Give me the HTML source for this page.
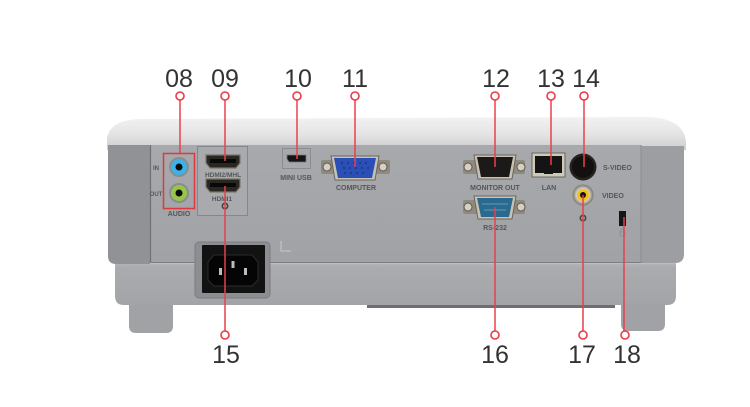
<!DOCTYPE html>
<html><head><meta charset="utf-8"><style>
html,body{margin:0;padding:0;background:#fff;width:750px;height:407px;overflow:hidden}
svg{display:block}
.n{font-family:"Liberation Sans",sans-serif;font-size:25px;fill:#333;text-anchor:middle}
.s{font-family:"Liberation Sans",sans-serif;font-size:7px;fill:#55565a;font-weight:bold;text-anchor:middle}
</style></head><body>
<svg width="750" height="407" viewBox="0 0 750 407" xmlns="http://www.w3.org/2000/svg">
<defs>
<linearGradient id="shell" x1="0" y1="0" x2="0" y2="1">
<stop offset="0" stop-color="#f2f2f2"/><stop offset="0.55" stop-color="#e3e3e4"/><stop offset="1" stop-color="#cbccce"/>
</linearGradient>
<linearGradient id="panel" x1="0" y1="0" x2="0" y2="1">
<stop offset="0" stop-color="#a7a9ad"/><stop offset="1" stop-color="#a0a2a6"/>
</linearGradient>
<linearGradient id="lower" x1="0" y1="0" x2="0" y2="1">
<stop offset="0" stop-color="#b4b6b9"/><stop offset="0.15" stop-color="#a9abae"/><stop offset="1" stop-color="#a2a4a7"/>
</linearGradient>
<radialGradient id="metal" cx="0.5" cy="0.5" r="0.5">
<stop offset="0.6" stop-color="#d8d2c4"/><stop offset="1" stop-color="#7a756c"/>
</radialGradient>
</defs>

<!-- feet -->
<path d="M129,300 L173,300 L173,326 Q173,333 166,333 L136,333 Q129,333 129,326 Z" fill="#a0a2a6"/>
<path d="M621,298 L665,298 L665,324 Q665,331 658,331 L628,331 Q621,331 621,324 Z" fill="#a0a2a6"/>
<rect x="367" y="302" width="248" height="6" fill="#6c6e71"/>

<!-- lower body -->
<path d="M115,262 L676,262 L676,296 Q676,305 667,305 L124,305 Q115,305 115,296 Z" fill="url(#lower)"/>
<line x1="115" y1="263" x2="676" y2="263" stroke="#c0c2c5" stroke-width="1.5"/>

<!-- top shell -->
<path d="M107,150 L107,138 Q110,120 140,119 L650,117 Q683,119 686,141 L686,150 Z" fill="url(#shell)"/>

<!-- left side -->
<path d="M108,145 L150,145 L150,264 L116,264 Q108,264 108,256 Z" fill="#909296"/>
<!-- right side -->
<path d="M641,146 L684,146 L684,254 Q684,263 675,263 L641,263 Z" fill="#9c9ea2"/>
<!-- main panel -->
<rect x="150" y="145" width="491" height="118" fill="url(#panel)"/>
<line x1="150.5" y1="145" x2="150.5" y2="263" stroke="#6f7175" stroke-width="1.2"/>
<line x1="641" y1="145" x2="641" y2="263" stroke="#8a8c90" stroke-width="1"/>
<line x1="150" y1="262.5" x2="641" y2="262.5" stroke="#7c7e82" stroke-width="1"/>

<!-- power outlet -->
<rect x="195" y="242" width="75" height="56" rx="4" fill="#8c8e92" stroke="#7a7c80"/>
<rect x="202" y="245" width="63" height="48" rx="1" fill="#121212"/>
<path d="M214,255 L252,255 L258,262 L258,280 L252,286 L214,286 L208,280 L208,262 Z" fill="#050505" stroke="#2c2c2c" stroke-width="1"/>
<rect x="219" y="268" width="3" height="7" fill="#bdbdbd"/>
<rect x="231.5" y="261" width="3" height="7" fill="#bdbdbd"/>
<rect x="244" y="268" width="3" height="7" fill="#bdbdbd"/>
<path d="M281,241 L281,251 L291,251" fill="none" stroke="#c8c9cc" stroke-width="1"/>

<!-- audio -->
<rect x="163.5" y="153.5" width="31" height="55" fill="none" stroke="#e0383f" stroke-width="1.5"/>
<circle cx="179" cy="167" r="10" fill="#8a8c90"/>
<circle cx="179" cy="167" r="8" fill="#3cb2e6"/>
<circle cx="179" cy="167" r="3.5" fill="#0a0a0a"/>
<circle cx="179" cy="193" r="10" fill="#8a8c90"/>
<circle cx="179" cy="193" r="8" fill="#96c648"/>
<circle cx="179" cy="193" r="3.5" fill="#0a0a0a"/>
<text class="s" x="156" y="170" style="font-size:6px">IN</text>
<text class="s" x="156" y="196" style="font-size:6px">OUT</text>
<text class="s" x="179" y="216">AUDIO</text>

<!-- HDMI -->
<rect x="197.5" y="146.5" width="50" height="69" fill="#a8aaae" stroke="#85878b" stroke-width="1"/>
<path d="M206,155 L240,155 L240,163 L236,168 L210,168 L206,163 Z" fill="#2a2622" stroke="#7c7468" stroke-width="1.2"/>
<rect x="210" y="159" width="26" height="4" fill="#090909"/>
<path d="M206,179 L240,179 L240,187 L236,192 L210,192 L206,187 Z" fill="#2a2622" stroke="#7c7468" stroke-width="1.2"/>
<rect x="210" y="183" width="26" height="4" fill="#090909"/>
<text class="s" x="223" y="177" style="font-size:6.5px">HDMI2/MHL</text>
<text class="s" x="222" y="201" style="font-size:6.5px">HDMI1</text>
<circle cx="225" cy="206" r="3.5" fill="#4a4642"/>
<circle cx="225" cy="206" r="1.8" fill="#b8b4aa"/>

<!-- mini usb -->
<rect x="282.5" y="148.5" width="28" height="20" fill="none" stroke="#8a8c90" stroke-width="1"/>
<path d="M287,155 L306,155 L306,162 L289,162 L287,159 Z" fill="#151515" stroke="#777" stroke-width="0.8"/>
<text class="s" x="296" y="180">MINI USB</text>

<!-- VGA computer -->
<rect x="321" y="160" width="69" height="14" rx="2" fill="#8e8a80"/>
<circle cx="327" cy="167" r="4" fill="#d6d0c2" stroke="#5c5850"/>
<circle cx="383" cy="167" r="4" fill="#d6d0c2" stroke="#5c5850"/>
<path d="M331,156 L379,156 L375,180 L335,180 Z" fill="#c9c2b2" stroke="#6a665e" stroke-width="1"/>
<path d="M334,158 L376,158 L372,178 L338,178 Z" fill="#2a50b8"/>
<g fill="#1a2e70">
<circle cx="342" cy="163" r="0.9"/><circle cx="348" cy="163" r="0.9"/><circle cx="354" cy="163" r="0.9"/><circle cx="360" cy="163" r="0.9"/><circle cx="366" cy="163" r="0.9"/>
<circle cx="344" cy="168" r="0.9"/><circle cx="350" cy="168" r="0.9"/><circle cx="356" cy="168" r="0.9"/><circle cx="362" cy="168" r="0.9"/><circle cx="368" cy="168" r="0.9"/>
<circle cx="345" cy="173" r="0.9"/><circle cx="351" cy="173" r="0.9"/><circle cx="357" cy="173" r="0.9"/><circle cx="363" cy="173" r="0.9"/>
</g>
<text class="s" x="356" y="190">COMPUTER</text>

<!-- monitor out -->
<rect x="463" y="160" width="62" height="14" rx="2" fill="#8e8a80"/>
<circle cx="468" cy="167" r="4" fill="#d6d0c2" stroke="#5c5850"/>
<circle cx="521" cy="167" r="4" fill="#d6d0c2" stroke="#5c5850"/>
<path d="M474,155 L516,155 L512,179 L478,179 Z" fill="#c9c2b2" stroke="#6a665e" stroke-width="1"/>
<path d="M477,157 L513,157 L509,177 L481,177 Z" fill="#1c1a18"/>
<text class="s" x="495" y="190">MONITOR OUT</text>

<!-- RS-232 -->
<rect x="463" y="200" width="62" height="14" rx="2" fill="#8e8a80"/>
<circle cx="468" cy="207" r="4" fill="#d6d0c2" stroke="#5c5850"/>
<circle cx="521" cy="207" r="4" fill="#d6d0c2" stroke="#5c5850"/>
<path d="M474,196 L516,196 L512,219 L478,219 Z" fill="#c9c2b2" stroke="#6a665e" stroke-width="1"/>
<path d="M477,198 L513,198 L509,217 L481,217 Z" fill="#2b6a8e"/>
<line x1="482" y1="204" x2="508" y2="204" stroke="#4f93b8" stroke-width="1.2"/>
<line x1="484" y1="210" x2="506" y2="210" stroke="#4f93b8" stroke-width="1.2"/>
<text class="s" x="495" y="230">RS-232</text>

<!-- LAN -->
<rect x="532" y="153" width="33" height="24" fill="#cfc9ba" stroke="#6a665e" stroke-width="1"/>
<rect x="535" y="156" width="27" height="17" fill="#141414"/>
<rect x="544" y="170" width="9" height="4" fill="#141414"/>
<text class="s" x="549" y="190">LAN</text>

<!-- S-video -->
<circle cx="583" cy="167" r="13.5" fill="#26231f"/>
<circle cx="583" cy="167" r="11" fill="#121110"/>
<text class="s" x="603" y="170" style="text-anchor:start">S-VIDEO</text>
<!-- video -->
<circle cx="583" cy="195" r="10.5" fill="url(#metal)"/>
<circle cx="583" cy="195" r="6" fill="#f2c21a"/>
<circle cx="583" cy="195" r="3" fill="#111"/>
<text class="s" x="602" y="198" style="text-anchor:start">VIDEO</text>
<circle cx="583" cy="218" r="3.5" fill="#4a4642"/>
<circle cx="583" cy="218" r="1.8" fill="#b8b4aa"/>

<!-- lock -->
<rect x="619" y="211" width="7" height="15" fill="#151515"/>
<rect x="620" y="232" width="5" height="4" fill="none" stroke="#8a8c90" stroke-width="0.8"/>
<path d="M621,232 L621,230 Q622.5,228 624,230 L624,232" fill="none" stroke="#8a8c90" stroke-width="0.8"/>

<!-- connector lines -->
<g stroke="#e8404a" stroke-width="1.5" fill="none">
<line x1="180" y1="100" x2="180" y2="153"/>
<line x1="225" y1="100" x2="225" y2="161"/>
<line x1="297" y1="100" x2="297" y2="159"/>
<line x1="355" y1="100" x2="355" y2="167"/>
<line x1="495" y1="100" x2="495" y2="167"/>
<line x1="551" y1="100" x2="551" y2="165"/>
<line x1="584" y1="100" x2="584" y2="167"/>
<line x1="225" y1="186" x2="225" y2="331"/>
<line x1="495" y1="207" x2="495" y2="331"/>
<line x1="583" y1="195" x2="583" y2="331"/>
<line x1="624" y1="217" x2="624" y2="331"/>
</g>
<g stroke="#ec3a45" stroke-width="1.6" fill="#fff">
<circle cx="180" cy="96" r="4"/>
<circle cx="225" cy="96" r="4"/>
<circle cx="297" cy="96" r="4"/>
<circle cx="355" cy="96" r="4"/>
<circle cx="495" cy="96" r="4"/>
<circle cx="551" cy="96" r="4"/>
<circle cx="584" cy="96" r="4"/>
<circle cx="225" cy="335" r="4"/>
<circle cx="495" cy="335" r="4"/>
<circle cx="583" cy="335" r="4"/>
<circle cx="625" cy="335" r="4"/>
</g>

<!-- numbers -->
<text class="n" x="179" y="87">08</text>
<text class="n" x="225" y="87">09</text>
<text class="n" x="298" y="87">10</text>
<text class="n" x="355" y="87">11</text>
<text class="n" x="496" y="87">12</text>
<text class="n" x="551" y="87">13</text>
<text class="n" x="586" y="87">14</text>
<text class="n" x="226" y="363">15</text>
<text class="n" x="495" y="363">16</text>
<text class="n" x="582" y="363">17</text>
<text class="n" x="627" y="363">18</text>
</svg>
</body></html>
